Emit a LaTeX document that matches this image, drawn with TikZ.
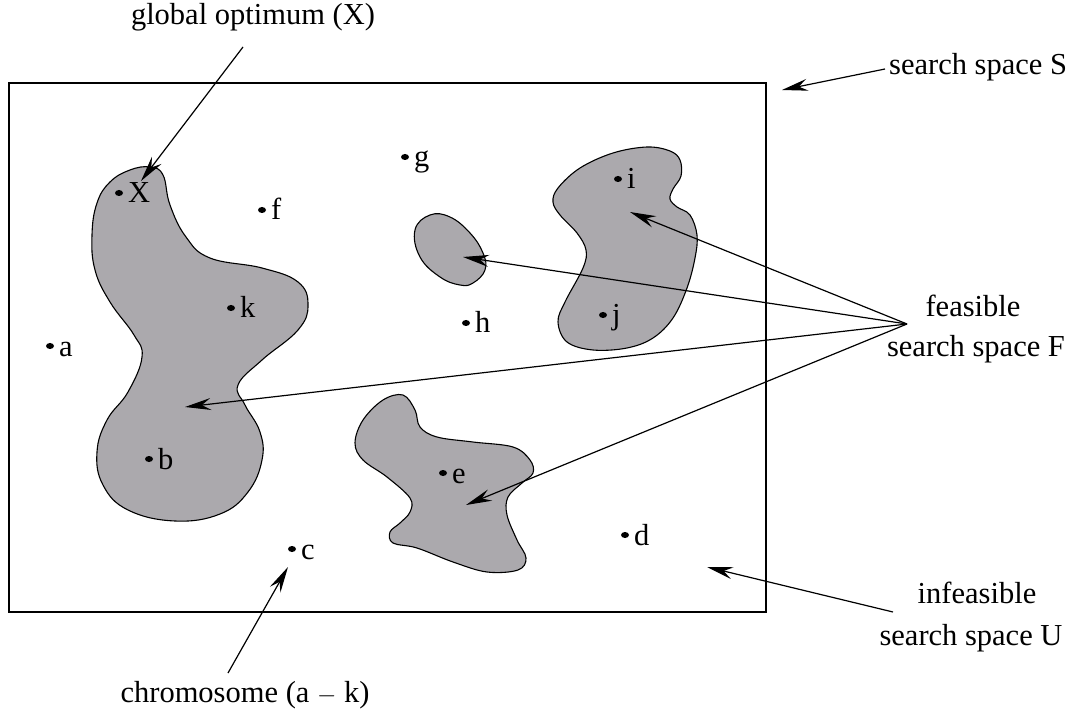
\documentclass[tikz,border=0pt]{standalone}
\usepackage{fontspec}
\setmainfont{Liberation Serif}
\usetikzlibrary{arrows.meta,shapes.geometric}
\definecolor{blobgray}{RGB}{171,169,173}
\begin{document}
\begin{tikzpicture}[x=1pt,y=-1pt,
  every node/.style={font=\fontsize{30.5}{36}\selectfont},
  blob/.style={draw=black,fill=blobgray,line width=1.1pt},
  frame/.style={draw=black,line width=1.3pt},
  ptr/.style={draw=black,line width=1.2pt,-{Stealth[length=26pt,width=12pt,inset=9pt]}},
  dot/.style={fill=black,ellipse,minimum width=8pt,minimum height=6pt,inner sep=0pt},
  lbl/.style={anchor=base west,inner sep=0pt},
  txt/.style={inner sep=0pt}]
\useasboundingbox (0,0) rectangle (1074,711);
\fill[white] (0,0) rectangle (1074,711);
% search space
\draw[frame] (9,83) rectangle (766,612);
% big blob
\draw[blob] plot[smooth cycle,tension=0.7] coordinates {
 (150,167) (163,175) (170,205) (186,237) (210,258) (262,268) (298,282) (308,305)
 (298,330) (262,360) (238,385) (245,405) (260,432) (262,460) (248,492) (220,514)
 (175,521) (128,510) (103,485) (97,452) (107,420) (128,392) (142,357) (134,335)
 (110,302) (95,270) (92,235) (97,203) (110,182) (130,170)};
% small ellipse
\draw[blob] plot[smooth cycle,tension=0.7] coordinates {
 (415,230) (430,215) (450,217) (470,233) (483,253) (485,270) (473,283) (460,285) (440,277) (420,257)};
% i-j blob
\draw[blob] plot[smooth cycle,tension=0.6] coordinates {
 (670,151) (680,160) (681,176) (673,189) (670,199) (677,207) (690,215) (697,235)
 (695,258) (687,288) (673,318) (653,338) (627,348) (593,350) (567,342) (558,322)
 (565,302) (583,268) (586,250) (577,233) (560,215) (553,202) (558,188) (580,168)
 (613,153) (647,147)};
% e blob
\draw[blob] plot[smooth cycle,tension=0.6] coordinates {
 (403,395) (415,410) (420,427) (437,437) (473,442) (513,447) (530,460) (533,473)
 (522,483) (508,497) (507,515) (517,540) (526,558) (518,570) (487,572) (453,562)
 (417,548) (393,543) (390,532) (400,523) (410,512) (410,498) (387,477) (363,460)
 (355,443) (363,420) (383,400)};
% points
\foreach \n/\x/\y/\t in {X/119/193/X, f/262/210/f, g/405/157/g, i/618/179/i,
  k/231/308/k, h/466/323/h, j/603/315/j, a/50/346/a, b/149/459/b,
  e/443/473/e, d/625/535/d, c/292/549/c}{
  \node[dot] (p\n) at (\x,\y) {};
  \node[lbl] (l\n) at (\x+9,\y+10) {\t};
}
% labels
\node[txt,anchor=base] (tglob) at (253,25) {global optimum (X)};
\node[txt,anchor=base west] (tS) at (889,75) {search space S};
\node[txt,anchor=base] (tfeas1) at (973,317) {feasible};
\node[txt,anchor=base] (tfeas2) at (976,357) {search space F};
\node[txt,anchor=base] (tinf1) at (977,603) {infeasible};
\node[txt,anchor=base] (tinf2) at (971,645) {search space U};
\node[txt,anchor=base] (tchrom) at (245,702) {chromosome (a $-$ k)};
% coordinates
\coordinate (gs) at (243,47);
\coordinate (ge) at (141,181);
\coordinate (ss) at (885,69);
\coordinate (se) at (782,90);
\coordinate (F) at (907,324);
\coordinate (Fi) at (630,212);
\coordinate (Fs) at (463,257);
\coordinate (Fb) at (185,407);
\coordinate (Fe) at (466,505);
\coordinate (us) at (893,612);
\coordinate (ue) at (707,567);
\coordinate (cs) at (228,673);
\coordinate (ce) at (288,567);
% arrows
\draw[ptr] (gs) -- (ge);
\draw[ptr] (ss) -- (se);
\draw[ptr] (F) -- (Fi);
\draw[ptr] (F) -- (Fs);
\draw[ptr] (F) -- (Fb);
\draw[ptr] (F) -- (Fe);
\draw[ptr] (us) -- (ue);
\draw[ptr] (cs) -- (ce);
\end{tikzpicture}
\end{document}
